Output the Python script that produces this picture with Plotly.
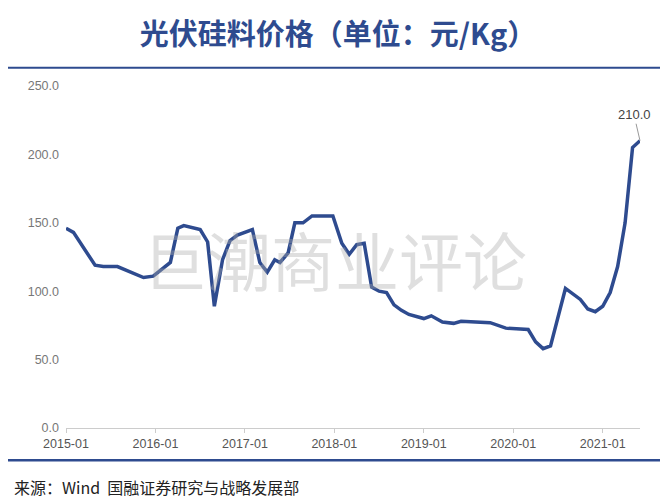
import plotly.graph_objects as go

# months since 2015-01
months = [0,1,3.9,5,6.9,9,10.4,11.7,14,15,15.8,18,19,19.9,21,22,23,25,26,27,28,28.7,29.8,30.7,31.8,33,35.8,
          37,38,39,40,41,42,43,44,45,46,48,49,50.5,52,53,56.9,59,62,63,64,65,67,69,70,71,72,73,74,75,76,77]
prices = [146,143,119,118,118,113,110,111,121,146,148,145,136,89,123,137,141,145,121,114,123,121,128,150,150,155,155,
          135,127,134,135,103,100,99,90,86,83,80,82,77.5,76.5,78,77,73,72,63,58,60,102,94,87,85,89,99,118,150,205,210]
tick_pos = [0,12,24,36,48,60,72]
tick_labels = ["2015-01","2016-01","2017-01","2018-01","2019-01","2020-01","2021-01"]
y_ticks = [0,50,100,150,200,250]

fig = go.Figure(go.Scatter(x=months, y=prices, mode="lines",
    line=dict(color="#2E4B8F", width=3.5), showlegend=False))

fig.add_annotation(x=months[-1], y=prices[-1], text="210.0", showarrow=True,
    arrowhead=0, arrowwidth=1, arrowcolor="#999999", ax=-6, ay=-26,
    font=dict(size=13, color="#444444", family="Liberation Sans"))

fig.add_annotation(x=0.469, y=0.497, xref="paper", yref="paper", text="巨潮商业评论", showarrow=False,
    font=dict(size=64, color="rgba(170,170,170,0.38)", family="Noto Sans CJK SC"))

fig.update_layout(
    width=660, height=492, paper_bgcolor="white", plot_bgcolor="white",
    margin=dict(l=58, r=28, t=78, b=72, autoexpand=False),
    title=dict(text="<b>光伏硅料价格（单位：元/Kg）</b>", x=0.5, xanchor="center", y=0.945, yanchor="middle",
               font=dict(size=29, color="#2E4B8F", family="Noto Sans CJK SC")),
    xaxis=dict(range=[0, 77], tickvals=tick_pos, ticktext=tick_labels, automargin=False,
               showgrid=False, showline=True, linecolor="#cccccc", ticks="outside", tickcolor="#cccccc", ticklen=4,
               tickfont=dict(size=12.5, color="#555555", family="Liberation Sans")),
    yaxis=dict(range=[0, 250], tickvals=y_ticks, ticktext=[f"{v:.1f}" for v in y_ticks], automargin=False,
               showgrid=False, showline=False, zeroline=False, ticklabelstandoff=6,
               tickfont=dict(size=12.5, color="#777777", family="Liberation Sans")),
)
fig.add_shape(type="line", xref="paper", yref="paper", x0=-0.12, x1=1.08, y0=1.053, y1=1.053,
              line=dict(color="#2E4B8F", width=2))
fig.add_shape(type="line", xref="paper", yref="paper", x0=-0.12, x1=1.08, y0=-0.094, y1=-0.094,
              line=dict(color="#2E4B8F", width=2.5))
fig.add_annotation(x=0, y=0, xref="paper", yref="paper", xshift=-54, yshift=-59, xanchor="left", yanchor="middle",
    text="来源：Wind  国融证券研究与战略发展部", showarrow=False,
    font=dict(size=16, color="#222222", family="Noto Sans CJK SC"))
fig.write_html("out.html")
